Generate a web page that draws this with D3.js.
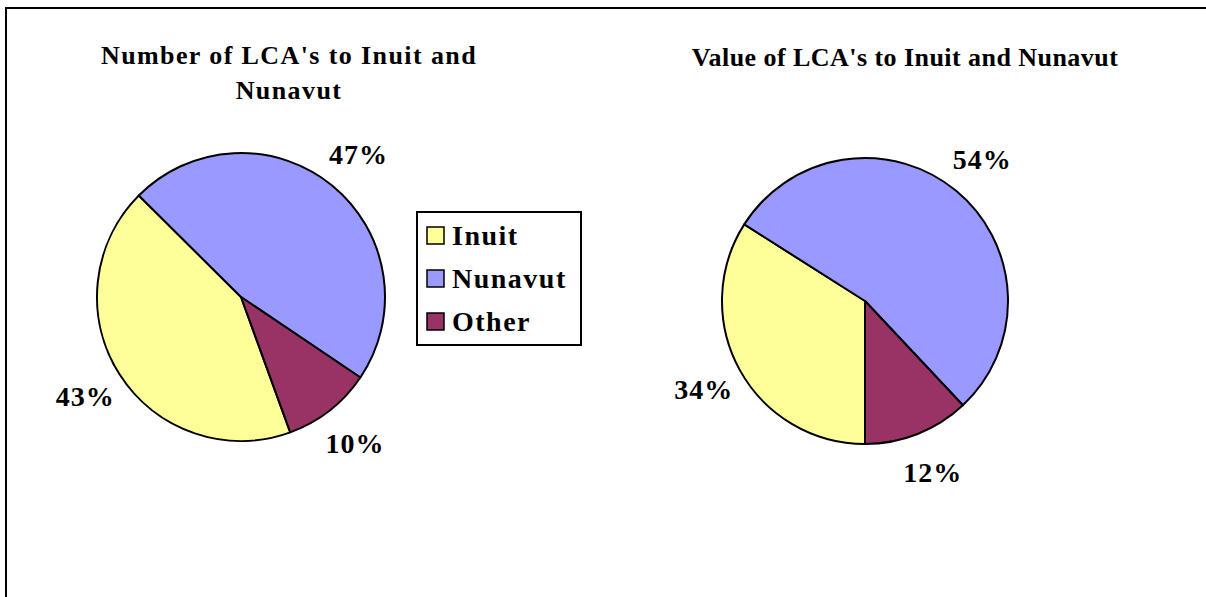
<!DOCTYPE html>
<html>
<head>
<meta charset="utf-8">
<script src="https://cdn.jsdelivr.net/npm/d3@7"></script>
<style>
  body { margin: 0; background: #fff; }
  text { font-family: "Liberation Serif", serif; font-weight: bold; fill: #000; }
</style>
</head>
<body>
<svg id="chart"></svg>
<script>
// data
const categories = ["Inuit", "Nunavut", "Other"];
const numberShare = [43, 47, 10];
const valueShare = [34, 54, 12];
const colors = ["#FFFF99", "#9999FF", "#993366"];
const titleNumber = ["Number of LCA's to Inuit and", "Nunavut"];
const titleValue = ["Value of LCA's to Inuit and Nunavut"];

const width = 1206;
const height = 597;

var svg = d3.select("#chart")
    .attr("width", width)
    .attr("height", height);

// chart area border (only top and left are visible in the original)
svg.append("rect")
    .attr("x", 6)
    .attr("y", 8)
    .attr("width", width + 20)
    .attr("height", height + 20)
    .attr("fill", "none")
    .attr("stroke", "#000")
    .attr("stroke-width", 2);

var color = d3.scaleOrdinal().domain(categories).range(colors);

function drawPie(values, cx, cy, r, startDeg, title, titleX, titleY, spacing) {
    const rows = categories.map((c, i) => ({cat: c, val: values[i]}));
    const pie = d3.pie()
        .value(d => d.val)
        .sort(null)
        .startAngle(startDeg * Math.PI / 180)
        .endAngle(startDeg * Math.PI / 180 + 2 * Math.PI);
    const arc = d3.arc().innerRadius(0).outerRadius(r);
    const labelArc = d3.arc().innerRadius(r + 41).outerRadius(r + 41);

    const g = svg.append("g").attr("transform", `translate(${cx},${cy})`);
    g.selectAll("path")
        .data(pie(rows))
        .join("path")
        .attr("d", arc)
        .attr("fill", d => color(d.data.cat))
        .attr("stroke", "#000")
        .attr("stroke-width", 2)
        .attr("stroke-linejoin", "round");

    g.selectAll("text.pct")
        .data(pie(rows))
        .join("text")
        .attr("class", "pct")
        .attr("transform", d => `translate(${labelArc.centroid(d)})`)
        .attr("text-anchor", "middle")
        .attr("dy", "0.35em")
        .attr("font-size", "28px")
        .attr("letter-spacing", "1px")
        .text(d => d.data.val + "%");

    svg.append("text")
        .attr("x", titleX)
        .attr("y", titleY)
        .attr("text-anchor", "middle")
        .attr("font-size", "26px")
        .attr("letter-spacing", spacing + "px")
        .selectAll("tspan")
        .data(title)
        .join("tspan")
        .attr("x", titleX)
        .attr("dy", (d, i) => i == 0 ? 0 : 35)
        .text(d => d);
}

drawPie(numberShare, 241, 297, 144, 160, titleNumber, 289, 64, 1.4);
drawPie(valueShare, 865, 301, 143, 180, titleValue, 905, 66, 0.45);

// legend
var legend = svg.append("g").attr("transform", "translate(417,212)");
legend.append("rect")
    .attr("width", 164)
    .attr("height", 133)
    .attr("fill", "#fff")
    .attr("stroke", "#000")
    .attr("stroke-width", 2);

var yLeg = d3.scalePoint().domain(categories).range([24, 110]);
var items = legend.selectAll("g.item")
    .data(categories)
    .join("g")
    .attr("class", "item")
    .attr("transform", d => `translate(10,${yLeg(d)})`);
items.append("rect")
    .attr("x", 0)
    .attr("y", -9)
    .attr("width", 17)
    .attr("height", 17)
    .attr("fill", d => color(d))
    .attr("stroke", "#000")
    .attr("stroke-width", 1.5);
items.append("text")
    .attr("x", 25)
    .attr("y", 9)
    .attr("font-size", "28px")
    .attr("letter-spacing", "1.5px")
    .text(d => d);
</script>
</body>
</html>
